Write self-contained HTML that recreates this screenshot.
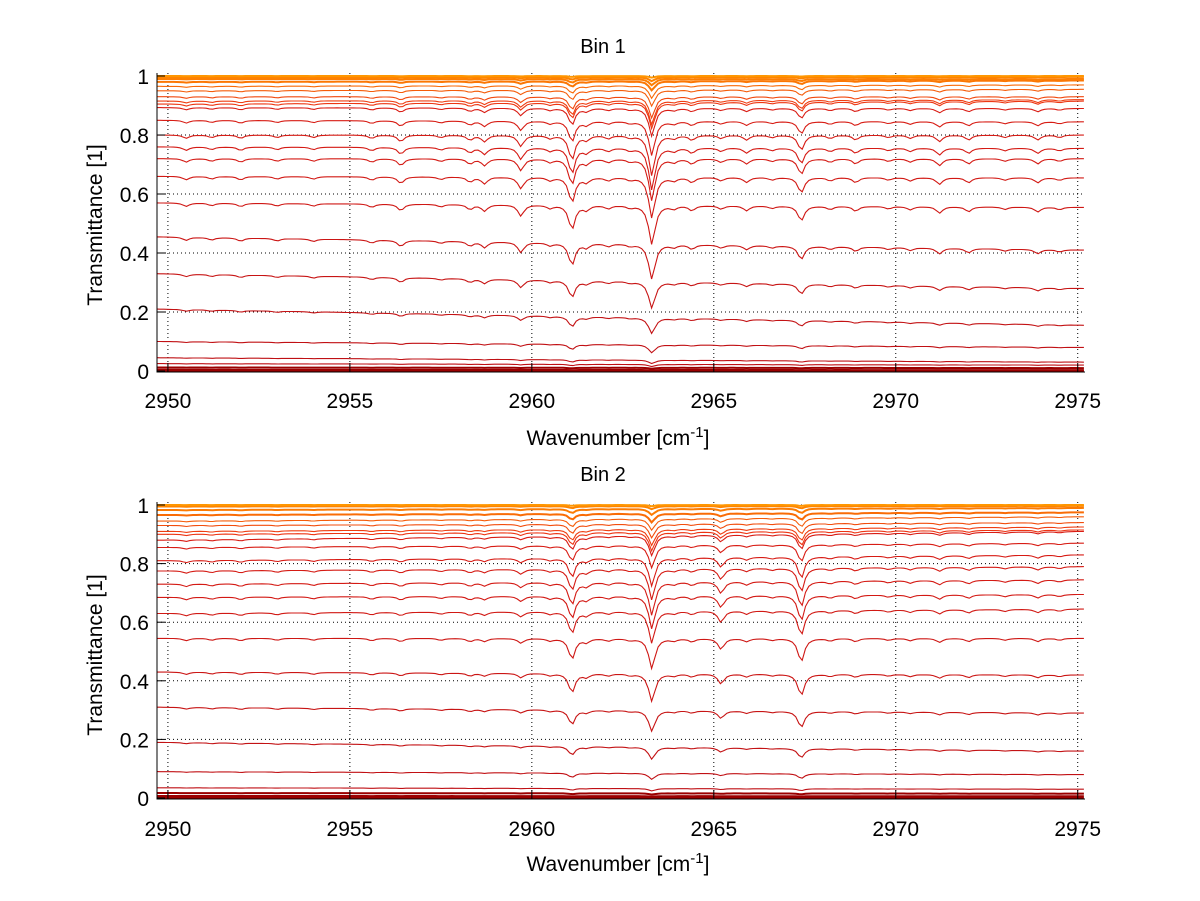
<!DOCTYPE html>
<html><head><meta charset="utf-8"><style>
html,body{margin:0;padding:0;background:#fff;}
svg{display:block;font-family:"Liberation Sans",Arial,sans-serif;}
</style></head><body>
<svg id="fig" width="1200" height="901" viewBox="0 0 1200 901"></svg>
<script>
// ---- data ----
const xTicks = [2950, 2955, 2960, 2965, 2970, 2975];
const yTicks = [0, 0.2, 0.4, 0.6, 0.8, 1];
const yTickLabels = ["0", "0.2", "0.4", "0.6", "0.8", "1"];
const titles = ["Bin 1", "Bin 2"];
const bin1LineCenters = [2950.5,2951.2,2952.0,2953.0,2954.0,2955.6,2956.4,2957.5,2958.3,2958.7,2959.7,2960.5,2961.1,2961.5,2962.1,2962.7,2963.3,2963.9,2964.4,2965.2,2965.9,2966.6,2967.4,2968.2,2968.9,2969.8,2970.4,2971.2,2972.0,2973.0,2973.9,2974.5];
const bin1LineStrengths = [0.02,0.015,0.02,0.015,0.015,0.02,0.04,0.015,0.03,0.04,0.07,0.02,0.16,0.03,0.02,0.015,0.27,0.02,0.03,0.02,0.03,0.015,0.095,0.02,0.03,0.015,0.02,0.04,0.03,0.015,0.03,0.015];
const bin2LineCenters = [2950.5,2951.2,2952.0,2953.0,2954.0,2955.6,2956.4,2957.5,2958.3,2958.7,2959.7,2960.5,2961.1,2961.5,2962.1,2962.7,2963.3,2963.9,2964.4,2965.2,2965.9,2966.6,2967.4,2968.2,2968.9,2969.8,2970.4,2971.2,2972.0,2973.0,2973.9,2974.5];
const bin2LineStrengths = [0.015,0.012,0.015,0.012,0.012,0.015,0.02,0.012,0.02,0.02,0.03,0.015,0.14,0.025,0.015,0.012,0.21,0.015,0.02,0.07,0.02,0.012,0.16,0.015,0.02,0.012,0.015,0.025,0.02,0.012,0.02,0.012];
const bin1BaseLeft  = [1.0,0.995,0.99,0.98,0.965,0.95,0.93,0.915,0.905,0.893,0.85,0.80,0.76,0.72,0.66,0.57,0.455,0.33,0.21,0.10,0.045,0.025,0.012,0.004,0.0];
const bin1BaseRight = [1.0,0.997,0.99,0.985,0.97,0.955,0.93,0.92,0.915,0.89,0.845,0.80,0.755,0.72,0.655,0.555,0.41,0.28,0.155,0.08,0.03,0.02,0.01,0.003,0.0];
const bin1Scale     = [0.02,0.05,0.08,0.12,0.17,0.22,0.3,0.35,0.38,0.42,0.55,0.7,0.78,0.82,0.88,1.0,1.2,1.3,1.3,1.35,1.4,1.4,1.4,1.4,1.4];
const bin2BaseLeft  = [1.0,0.995,0.983,0.966,0.945,0.93,0.91,0.90,0.88,0.855,0.81,0.775,0.73,0.685,0.63,0.545,0.43,0.31,0.19,0.09,0.035,0.017,0.007,0.0];
const bin2BaseRight = [1.0,0.997,0.99,0.975,0.96,0.94,0.925,0.915,0.91,0.87,0.83,0.79,0.745,0.695,0.645,0.545,0.42,0.29,0.16,0.08,0.03,0.015,0.006,0.0];
const bin2Scale     = [0.02,0.05,0.1,0.15,0.2,0.25,0.3,0.35,0.38,0.45,0.6,0.7,0.8,0.85,0.9,1.0,1.2,1.3,1.3,1.35,1.4,1.4,1.4,1.4];

// ---- layout ----
const NS = "http://www.w3.org/2000/svg";
const svg = document.getElementById('fig');
const X0 = 2949.7, X1 = 2975.2, PX0 = 157, PX1 = 1085;
const panels = [
  {y0: 371, y1: 76, top: 73, title: 46, xl: 400, xlab: 438, ylc: 225,
   centers: bin1LineCenters, strengths: bin1LineStrengths, bl: bin1BaseLeft, br: bin1BaseRight, sc: bin1Scale},
  {y0: 798, y1: 505, top: 502, title: 474, xl: 828, xlab: 864, ylc: 655,
   centers: bin2LineCenters, strengths: bin2LineStrengths, bl: bin2BaseLeft, br: bin2BaseRight, sc: bin2Scale}
];
function xs(v){ return PX0 + (v - X0) / (X1 - X0) * (PX1 - PX0); }
function mk(tag, attrs, parent){
  const e = document.createElementNS(NS, tag);
  for (const k in attrs) e.setAttribute(k, attrs[k]);
  (parent || svg).appendChild(e);
  return e;
}
function colorFor(b){
  let r, g, bl;
  if (b < 0.02) { r = 155; g = 0; bl = 0; }
  else if (b < 0.9) { r = 190 + 30 * b; g = 15 + 15 * b; bl = 20; }
  else { const t = (b - 0.9) / 0.1; r = 235 + 20 * t; g = 45 + 90 * t; bl = 20 - 20 * t; }
  return `rgb(${Math.round(r)},${Math.round(g)},${Math.round(bl)})`;
}

panels.forEach((p, pi) => {
  const ys = v => p.y0 + (p.y1 - p.y0) * v;
  const g = mk('g', {});
  
  
  xTicks.forEach(t => {
    const l = mk('line', {x1: xs(t), x2: xs(t), y1: p.top, y2: p.y0 + 1, stroke: '#000', 'stroke-width': 1, 'stroke-dasharray': '1,3'}, g);
    
    
  });
  yTicks.forEach(t => {
    const l = mk('line', {x1: PX0, x2: PX1, y1: ys(t), y2: ys(t), stroke: '#000', 'stroke-width': 1, 'stroke-dasharray': '1,3'}, g);
    
    
  });
  const n = p.bl.length;
  for (let i = n - 1; i >= 0; i--) {
    let d = '';
    for (let x = X0; x <= X1 + 1e-9; x += 0.09) {
      const f = (x - X0) / (X1 - X0);
      const base = p.bl[i] + (p.br[i] - p.bl[i]) * f;
      let tau = 0;
      for (let j = 0; j < p.centers.length; j++) {
        const w = 0.1, dx = x - p.centers[j];
        tau += p.strengths[j] * w * w / (dx * dx + w * w);
      }
      const T = base * Math.exp(-p.sc[i] * tau);
      d += (d ? 'L' : 'M') + xs(x).toFixed(1) + ',' + ys(T).toFixed(1);
    }
    const bm = (p.bl[i] + p.br[i]) / 2;
    const path = mk('path', {d: d, fill: 'none', stroke: i === 0 ? 'rgb(255,150,0)' : colorFor(bm), 'stroke-width': bm < 0.02 ? 2 : (bm > 0.97 ? 2 : 1.1)}, g);
    
    
  }
  const ax = mk('path', {d: `M${PX0},${p.top}V${p.y0 + 1}H${PX1}`, fill: 'none', stroke: '#000', 'stroke-width': 1}, g);
  
  
  xTicks.forEach(t => {
    mk('line', {x1: xs(t), x2: xs(t), y1: p.y0 + 1, y2: p.y0 - 8, stroke: '#000'}, g);
    const tx = mk('text', {x: xs(t), y: p.xl + 8, 'font-size': 21, 'text-anchor': 'middle'}, g);
    tx.textContent = t;
    
    
  });
  yTicks.forEach((t, k) => {
    mk('line', {x1: PX0, x2: PX0 + 8, y1: ys(t), y2: ys(t), stroke: '#000'}, g);
    const tx = mk('text', {x: 149, y: ys(t) + 8, 'font-size': 21, 'text-anchor': 'end'}, g);
    tx.textContent = yTickLabels[k];
    
    
  });
  const title = mk('text', {x: 603, y: p.title + 7, 'font-size': 20, 'text-anchor': 'middle'}, g);
  title.textContent = titles[pi];
  
  
  const xl = mk('text', {x: 618, y: p.xlab + 7, 'font-size': 21, 'text-anchor': 'middle'}, g);
  xl.innerHTML = 'Wavenumber [cm<tspan dy="-8" font-size="15">-1</tspan><tspan dy="8">]</tspan>';
  
  
  const yl = mk('text', {x: 0, y: 0, 'font-size': 21, 'text-anchor': 'middle', transform: `translate(102,${p.ylc}) rotate(-90)`}, g);
  yl.textContent = 'Transmittance [1]';
  
  
});
</script>
</body></html>
